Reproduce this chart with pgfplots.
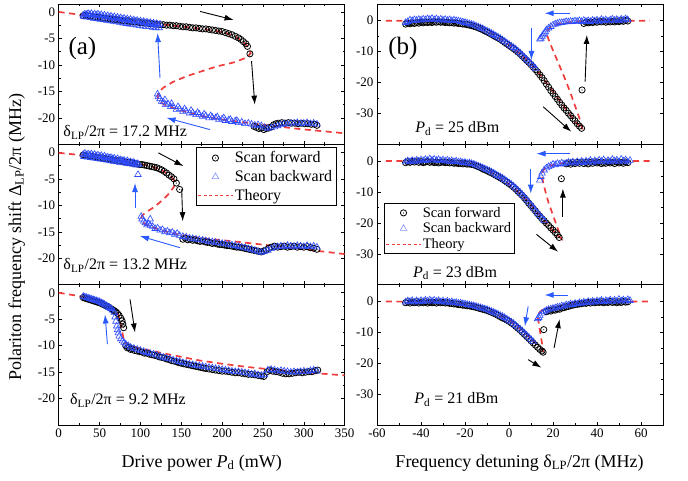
\documentclass[border=0pt]{standalone}
\usepackage{fontspec}
\setmainfont{Liberation Serif}
\usepackage{pgfplots}
\pgfplotsset{compat=1.18}
\usetikzlibrary{arrows.meta}

\definecolor{bwdc}{RGB}{45,75,255}
\definecolor{thc}{RGB}{240,60,60}
\definecolor{arrblue}{RGB}{40,90,255}
\newcommand\fs[1]{\fontsize{#1}{#1}\selectfont}

\pgfdeclareplotmark{odot}{%
  \pgfpathcircle{\pgfpointorigin}{\pgfplotmarksize}\pgfusepathqstroke
  \pgfpathcircle{\pgfpointorigin}{0.2\pgfplotmarksize}\pgfusepathqfill}

\pgfplotsset{
  panel/.style={scale only axis, width=286pt, height=140.4pt, anchor=north west,
    tick align=inside, major tick length=3.5pt, minor tick length=2pt,
    axis line style={line width=0.8pt},
    every tick/.style={black, line width=0.6pt},
    tick label style={font=\fs{13}},
    /pgf/number format/assume math mode=true},
  lpanel/.style={panel, xmin=0, xmax=350, ymin=-25, ymax=1.5,
    xtick={0,50,...,350}, minor x tick num=1,
    ytick={-20,-15,-10,-5,0}, minor y tick num=1},
  rpanel/.style={panel, xmin=-60, xmax=70, ymin=-40, ymax=5.4,
    xtick={-60,-40,...,60}, minor x tick num=1,
    ytick={-30,-20,-10,0}, minor y tick num=1},
  fwd/.style={only marks, mark=odot, mark size=3.1pt, black, line width=0.8pt,
    legend image code/.code={\draw[mark repeat=2,mark phase=2,##1] plot coordinates {(0cm,0cm) (0.6cm,0cm) (1.2cm,0cm)};}},
  bwd/.style={only marks, mark=triangle, mark size=3.8pt, bwdc, line width=0.6pt,
    legend image code/.code={\draw[mark repeat=2,mark phase=2,##1,bwdc!60] plot coordinates {(0cm,0cm) (0.6cm,0cm) (1.2cm,0cm)};}},
  th/.style={no marks, thc, line width=1.7pt, dash pattern=on 6pt off 4.5pt,
    legend image code/.code={\draw[thc, line width=0.6pt, dash pattern=on 3pt off 2.5pt] (0cm,0cm) -- (1.2cm,0cm);}},
}
\tikzset{
  arrk/.style={-{Latex[length=9pt,width=6pt]}, line width=0.9pt, black},
  arrbl/.style={-{Latex[length=9pt,width=6pt]}, line width=0.9pt, arrblue},
}

\begin{document}
\begin{tikzpicture}
\path[use as bounding box] (0,0) rectangle (688pt,-481pt);

% ---------------- (a) top: 17.2 MHz
\begin{axis}[lpanel, at={(58.7pt,-4pt)}, xticklabels={}]
\addplot[fwd] coordinates {
(30,-0.7)(33,-0.6)(36,-0.8)(39,-0.8)(42,-0.9)(45,-1.0)(48,-1.0)(51,-1.1)(54,-1.2)(57,-1.2)(60,-1.3)(63,-1.3)(66,-1.4)(69,-1.4)(72,-1.5)(75,-1.6)(78,-1.6)(81,-1.7)(84,-1.7)(87,-1.8)(90,-1.8)(93,-1.9)(96,-1.9)(99,-2.0)(102,-2.0)(105,-2.1)(108,-2.1)(111,-2.2)(114,-2.2)(117,-2.3)(120,-2.3)(124,-2.4)(128,-2.4)(132,-2.5)(136,-2.5)(140,-2.6)(144,-2.6)(148,-2.7)(152,-2.8)(156,-2.8)(160,-2.9)(164,-3.0)(168,-3.0)(172,-3.1)(176,-3.2)(180,-3.2)(184,-3.3)(188,-3.4)(192,-3.5)(196,-3.6)(200,-3.7)(204,-3.9)(208,-4.1)(212,-4.3)(216,-4.6)(220,-4.9)(223,-5.2)(226,-5.6)(229,-6.0)(231,-6.5)(234,-7.9)
(239,-21.6)(242,-21.8)(245,-22.0)(248,-21.9)(251,-22.2)(254,-22.0)(257,-21.9)(260,-21.7)(263,-21.3)(266,-21.1)(269,-21.0)(273,-20.9)(277,-21.0)(281,-20.9)(285,-21.0)(289,-21.0)(293,-21.1)(297,-21.0)(301,-21.1)(305,-21.1)(309,-21.2)(313,-21.2)(316,-21.4)};
\addplot[bwd] coordinates {
(316,-21.2)(312,-21.0)(308,-21.1)(304,-20.9)(300,-21.0)(296,-21.1)(292,-20.9)(288,-21.0)(284,-21.0)(280,-21.2)(276,-21.1)(272,-21.3)(268,-21.5)(264,-21.7)(260,-21.9)(256,-22.0)(252,-21.8)(248,-21.5)(244,-21.3)(240,-21.4)(236,-21.2)(232,-21.0)(228,-21.1)(224,-20.8)(220,-20.9)(216,-20.6)(212,-20.7)(208,-20.4)(204,-20.5)(200,-20.2)(196,-20.3)(192,-20.0)(188,-19.9)(184,-20.0)(180,-19.6)(176,-19.7)(172,-19.3)(168,-19.4)(164,-19.0)(160,-19.1)(156,-18.7)(152,-18.8)(148,-18.3)(144,-18.4)(140,-17.9)(137,-17.9)(134,-17.4)(131,-17.5)(128,-17.0)(126,-16.9)(124,-16.4)(122,-16.0)(121,-15.5)
(130,-16.6)(138,-17.3)(146,-17.9)(154,-18.3)(162,-18.6)(170,-19.0)(178,-19.3)(186,-19.6)(194,-19.8)(202,-20.0)(210,-20.3)(218,-20.5)
(124,-2.3)(122,-2.5)(120,-2.2)(118,-2.4)(116,-2.1)(114,-2.3)(112,-2.0)(110,-2.2)(108,-1.9)(106,-2.1)(104,-1.8)(102,-2.0)(100,-1.7)(98,-1.9)(96,-1.6)(94,-1.8)(92,-1.5)(90,-1.7)(88,-1.4)(86,-1.6)(84,-1.3)(82,-1.5)(80,-1.2)(78,-1.4)(76,-1.1)(74,-1.3)(72,-1.0)(70,-1.2)(68,-0.9)(66,-1.1)(64,-0.8)(62,-1.0)(60,-0.7)(58,-0.9)(56,-0.6)(54,-0.8)(52,-0.5)(50,-0.7)(48,-0.4)(46,-0.6)(44,-0.4)(42,-0.6)(40,-0.3)(38,-0.5)(36,-0.3)(34,-0.5)(32,-0.4)(30,-0.6)
(31,-0.9)(35,-1.0)(39,-1.1)(43,-1.2)(47,-1.3)(51,-1.4)(55,-1.5)(59,-1.6)(63,-1.7)(67,-1.8)(71,-1.9)(75,-2.0)(79,-2.1)(83,-2.2)(87,-2.3)(91,-2.4)(95,-2.5)(99,-2.6)(103,-2.7)(107,-2.8)(111,-2.8)(115,-2.9)(119,-3.0)(123,-3.0)};
\addplot[th] coordinates {
(0,0)(15,-0.3)(30,-0.6)(50,-0.95)(70,-1.3)(90,-1.7)(110,-2.05)(130,-2.4)(150,-2.75)(170,-3.1)(190,-3.5)(205,-4.0)(215,-4.6)(223,-5.3)(229,-6.1)(233,-7.0)(235,-7.8)
(230,-8.6)(215,-9.5)(193,-10.3)(175,-11.2)(157,-12.1)(140,-13.2)(128,-14.3)(122,-15.2)(121,-16.0)
(124,-17.0)(132,-17.7)(150,-18.6)(173,-19.6)(200,-20.3)(240,-21.1)(295,-22.1)(350,-22.9)};
\draw[arrk] (173,0.1) -- (214,-1.5);
\draw[arrk] (236,-9.3) -- (240,-17.5);
\draw[arrbl] (124,-12.5) -- (121,-4);
\draw[arrbl] (185,-22.2) -- (132,-20);
\node[anchor=base west, inner sep=0, font=\fs{25}] at (11.8,-8.1) {(a)};
\node[anchor=base west, inner sep=0, font=\fs{16}] at (5.6,-23.5) {δ\textsubscript{LP}/2π = 17.2 MHz};
\end{axis}

% ---------------- (a) middle: 13.2 MHz
\begin{axis}[lpanel, at={(58.7pt,-144.4pt)}, xticklabels={},
  legend style={at={(axis description cs:0.971,0.979)}, anchor=north east,
    font=\fs{16}, draw=black, line width=0.6pt, inner sep=2pt,
    cells={anchor=west}, row sep=2pt}]
\addplot[fwd] coordinates {
(30,-0.5)(33,-0.6)(36,-0.7)(39,-0.7)(42,-0.8)(45,-0.9)(48,-1.0)(51,-1.0)(54,-1.1)(57,-1.2)(60,-1.3)(63,-1.3)(66,-1.4)(69,-1.5)(72,-1.6)(75,-1.6)(78,-1.7)(81,-1.8)(84,-1.9)(87,-1.9)(90,-2.0)(93,-2.1)(96,-2.2)(99,-2.3)(102,-2.3)(105,-2.4)(108,-2.5)(111,-2.6)(114,-2.7)(117,-2.8)(120,-2.9)(123,-3.1)(126,-3.3)(129,-3.6)(132,-3.9)(135,-4.3)(138,-4.6)(141,-5.0)(144,-5.8)(148,-7.0)
(152,-16.4)(155,-16.2)(158,-16.5)(161,-16.4)(164,-16.6)(167,-16.5)(170,-16.7)(173,-16.8)(176,-16.7)(179,-16.9)(182,-17.0)(185,-17.0)(188,-17.2)(191,-17.1)(194,-17.3)(197,-17.4)(200,-17.4)(203,-17.5)(206,-17.6)(209,-17.6)(212,-17.7)(215,-17.8)(218,-17.9)(221,-17.9)(224,-18.0)(227,-18.1)(230,-18.2)(233,-18.3)(236,-18.4)(239,-18.5)(242,-18.6)(245,-18.7)(248,-18.8)(251,-18.6)(254,-18.4)(257,-18.1)(260,-17.9)(264,-17.7)(268,-17.9)(272,-17.8)(276,-17.7)(280,-17.9)(284,-17.8)(288,-17.7)(292,-17.9)(296,-17.8)(300,-17.9)(304,-17.8)(308,-18.0)(312,-18.1)(316,-18.3)};
\addlegendentry{Scan forward}
\addplot[bwd] coordinates {
(316,-17.9)(312,-17.7)(308,-17.8)(304,-17.6)(300,-17.8)(296,-17.7)(292,-17.6)(288,-17.8)(284,-17.7)(280,-17.6)(276,-17.8)(272,-17.7)(268,-17.8)(264,-17.9)(260,-18.2)(256,-18.5)(252,-18.7)(248,-18.9)(244,-18.7)(240,-18.5)(236,-18.3)(232,-18.2)(228,-18.0)(224,-17.9)(220,-17.8)(216,-17.6)(212,-17.5)(208,-17.4)(204,-17.3)(200,-17.2)(196,-17.1)(192,-17.0)(188,-16.9)(184,-16.8)(180,-16.7)(176,-16.6)(172,-16.5)(168,-16.4)(164,-16.3)(160,-16.2)(156,-16.0)(152,-15.9)(148,-15.7)(145,-15.3)(142,-15.5)(139,-15.1)(136,-15.2)(133,-14.9)(130,-15.0)(127,-14.6)(124,-14.7)(121,-14.3)(118,-14.4)(115,-14.0)(112,-13.8)(110,-13.5)(108,-13.7)(106,-13.3)(104,-13.0)(102,-12.6)(101,-12.1)(112,-12.6)
(97,-4.2)(98,-2.3)(96,-2.1)(94,-2.2)(92,-1.9)(90,-2.0)(88,-1.8)(86,-1.9)(84,-1.6)(82,-1.8)(80,-1.5)(78,-1.6)(76,-1.4)(74,-1.5)(72,-1.2)(70,-1.4)(68,-1.1)(66,-1.2)(64,-1.0)(62,-1.1)(60,-0.9)(58,-1.0)(56,-0.7)(54,-0.9)(52,-0.6)(50,-0.8)(48,-0.5)(46,-0.7)(44,-0.4)(42,-0.6)(40,-0.3)(38,-0.5)(36,-0.3)(34,-0.5)(32,-0.2)(30,-0.4)
(31,-0.8)(35,-0.9)(39,-1.0)(43,-1.1)(47,-1.2)(51,-1.3)(55,-1.4)(59,-1.5)(63,-1.6)(67,-1.7)(71,-1.8)(75,-1.9)(79,-2.0)(83,-2.1)(87,-2.2)(91,-2.3)(95,-2.4)};
\addlegendentry{Scan backward}
\addplot[th] coordinates {
(0,-0.1)(20,-0.4)(40,-0.8)(60,-1.2)(80,-1.6)(100,-2.2)(115,-2.7)(125,-3.3)(133,-4.0)(138,-4.6)(141,-5.2)(142.5,-5.8)
(141,-6.5)(135,-7.8)(127,-9.0)(118,-10.2)(108,-11.2)(102,-11.9)(101,-12.5)
(103,-13.2)(108,-13.7)(118,-14.3)(132,-15.0)(150,-15.6)(175,-16.2)(214,-16.8)(260,-17.6)(300,-18.3)(350,-19.2)};
\addlegendentry{Theory}
\draw[arrk] (122,-0.1) -- (152.6,-2.6);
\draw[arrk] (150.5,-7) -- (151.8,-13);
\draw[arrbl] (93.4,-10.5) -- (93.4,-5.8);
\draw[arrbl] (148.5,-18) -- (99.5,-15.8);
\node[anchor=base west, inner sep=0, font=\fs{16}] at (5.6,-22.2) {δ\textsubscript{LP}/2π = 13.2 MHz};
\end{axis}

% ---------------- (a) bottom: 9.2 MHz
\begin{axis}[lpanel, at={(58.7pt,-284.8pt)}]
\addplot[fwd] coordinates {
(30,-0.9)(32,-1.0)(34,-1.1)(36,-1.2)(38,-1.3)(40,-1.4)(42,-1.5)(44,-1.6)(46,-1.7)(48,-1.8)(50,-1.9)(52,-2.0)(54,-2.2)(56,-2.3)(58,-2.5)(60,-2.6)(62,-2.8)(64,-3.0)(66,-3.2)(68,-3.4)(70,-3.6)(72,-3.9)(74,-4.3)(76,-4.8)(77.5,-5.3)(78.5,-5.9)(79.5,-6.6)
(82,-10.0)(84,-10.4)(86,-10.3)(88,-10.7)(90,-10.6)(93,-10.9)(96,-11.0)(99,-11.1)(102,-11.2)(105,-11.4)(108,-11.4)(111,-11.6)(114,-11.7)(117,-11.8)(120,-11.9)(123,-12.1)(126,-12.2)(129,-12.3)(132,-12.5)(135,-12.6)(138,-12.8)(141,-12.9)(144,-13.0)(147,-13.2)(150,-13.3)(153,-13.4)(156,-13.5)(159,-13.6)(162,-13.7)(165,-13.8)(168,-13.9)(171,-14.0)(174,-14.1)(177,-14.2)(180,-14.3)(184,-14.4)(188,-14.5)(192,-14.6)(196,-14.7)(200,-14.8)(204,-14.8)(208,-14.9)(212,-15.0)(216,-15.1)(220,-15.1)(224,-15.2)(228,-15.3)(232,-15.4)(236,-15.4)(240,-15.5)(244,-15.6)(248,-15.7)(251,-15.8)(255,-14.9)(258,-14.6)(262,-14.8)(266,-14.9)(270,-15.0)(274,-15.2)(278,-15.3)(282,-15.3)(286,-15.2)(290,-15.1)(294,-15.0)(298,-15.1)(302,-15.0)(306,-14.9)(310,-14.9)(314,-14.7)(317,-14.6)};
\addplot[bwd] coordinates {
(316,-14.8)(312,-14.6)(308,-14.7)(304,-14.9)(300,-14.8)(296,-14.9)(292,-15.0)(288,-14.9)(284,-15.0)(280,-14.9)(276,-14.8)(272,-14.7)(268,-14.8)(264,-14.6)(260,-14.5)(256,-14.6)(252,-15.5)(248,-15.6)(244,-15.5)(240,-15.3)(236,-15.4)(232,-15.2)(228,-15.1)(224,-15.0)(220,-14.9)(216,-14.9)(212,-14.8)(208,-14.7)(204,-14.6)(200,-14.5)(196,-14.4)(192,-14.3)(188,-14.2)(184,-14.1)(180,-14.0)(176,-13.9)(172,-13.8)(168,-13.7)(164,-13.6)(160,-13.5)(156,-13.3)(152,-13.2)(148,-13.0)(144,-12.9)(140,-12.7)(136,-12.5)(132,-12.4)(128,-12.2)(124,-12.0)(120,-11.8)(116,-11.6)(112,-11.5)(108,-11.3)(104,-11.1)(100,-10.9)(96,-10.7)(92,-10.5)(88,-10.3)(85,-10.0)(82,-9.7)(80,-9.4)(78,-9.1)(76,-8.7)(74,-8.2)(73,-7.6)(72,-7.0)(71,-6.3)(70,-5.4)(69,-4.6)(68,-3.7)(66,-3.3)(64,-3.0)(62,-2.8)(60,-2.6)(58,-2.4)(56,-2.2)(54,-2.0)(52,-1.9)(50,-1.7)(48,-1.6)(46,-1.5)(44,-1.4)(42,-1.3)(40,-1.2)(38,-1.1)(36,-1.0)(34,-0.9)(32,-0.8)(30,-0.7)};
\addplot[th] coordinates {
(0,0)(20,-0.5)(40,-1.1)(55,-1.8)(65,-2.6)(70,-3.3)(73,-4.2)(75,-5.2)(77,-6.6)(78.5,-8.0)(80,-9.0)(83,-9.6)(90,-10.1)(100,-10.5)(112,-10.9)(130,-11.5)(150,-12.1)(173,-12.8)(200,-13.4)(230,-14.0)(255,-14.4)(300,-15.0)(350,-15.6)};
\draw[arrk] (87.3,-1.25) -- (93.4,-7.5);
\draw[arrbl] (59.6,-9.7) -- (56.7,-4.1);
\node[anchor=base west, inner sep=0, font=\fs{16}] at (13.8,-21.1) {δ\textsubscript{LP}/2π = 9.2 MHz};
\end{axis}

% ---------------- (b) top: 25 dBm
\begin{axis}[rpanel, at={(377pt,-4pt)}, xticklabels={}]
\addplot[fwd] coordinates {
(-47,-1.1)(-46,-0.8)(-45,-1.0)(-44,-0.7)(-43,-0.9)(-42,-0.6)(-41,-0.8)(-40,-0.5)(-39,-0.7)(-38,-0.4)(-37,-0.6)(-36,-0.4)(-35,-0.6)(-34,-0.3)(-33,-0.5)(-32,-0.3)(-31,-0.5)(-30,-0.4)(-29,-0.6)(-28,-0.5)(-27,-0.7)(-26,-0.6)(-25,-0.8)(-24,-0.7)(-23,-0.9)(-22,-0.9)(-21,-1.1)(-20,-1.1)(-19,-1.3)(-18,-1.4)(-17,-1.6)(-16,-1.8)(-15,-2.0)(-14,-2.3)(-13,-2.6)(-12,-2.9)(-11,-3.3)(-10,-3.6)(-9,-4.0)(-8,-4.4)(-7,-4.8)(-6,-5.2)(-5,-5.6)(-4,-6.0)(-3,-6.5)(-2,-7.0)(-1,-7.5)(0,-8.0)(1,-8.5)(2,-9.0)(3,-9.5)(4,-10.1)(5,-10.7)(6,-11.4)(7,-12.1)(8,-12.8)(9,-13.5)(10,-14.2)(11,-15.0)(12,-15.8)(13,-16.6)(14,-17.5)(15,-18.4)(16,-19.4)(17,-20.5)(18,-21.5)(19,-22.6)(20,-23.5)(21,-24.5)(22,-25.4)(23,-26.4)(24,-27.3)(25,-28.2)(26,-29.0)(27,-29.9)(28,-30.7)(29,-31.6)(30,-32.4)(31,-33.3)(32,-34.1)(33,-34.8)
(33.2,-22.4)
(34,-0.9)(35,-0.5)(36,-0.7)(37,-0.4)(38,-0.6)(39,-0.3)(40,-0.5)(41,-0.2)(42,-0.4)(43,-0.2)(44,-0.5)(45,-0.3)(46,-0.4)(47,-0.2)(48,-0.4)(49,-0.1)(50,-0.3)(51,0.0)(52,-0.2)(53,0.1)(54,-0.1)};
\addplot[bwd] coordinates {
(54,0.3)(53,0.6)(52,0.2)(51,0.5)(50,0.0)(49,0.4)(48,0.1)(47,0.5)(46,0.2)(45,-0.1)(44,0.3)(43,0.0)(42,0.4)(41,-0.2)(40,0.2)(39,-0.1)(38,0.1)(37,-0.3)(36,0.0)(35,-0.2)(34,0.1)(33,-0.3)(32,0.0)(31,-0.2)(30,-0.1)(29,-0.3)(28,-0.2)(27,-0.4)(26,-0.3)(25,-0.5)(24,-0.6)(23,-0.7)(22,-0.9)(21,-1.1)(20,-1.4)(19,-1.9)(18,-2.4)(17,-3.0)(16.5,-3.6)(16,-4.1)(15.5,-4.6)(15,-5.1)(14.5,-5.7)(14,-6.0)
(12,-15.4)(11,-14.6)(10,-13.9)(9,-13.2)(8,-12.5)(7,-11.8)(6,-11.1)(5,-10.4)(4,-9.8)(3,-9.2)(2,-8.7)(1,-8.2)(0,-7.7)(-1,-7.2)(-2,-6.7)(-3,-6.2)(-4,-5.7)(-5,-5.3)(-6,-4.9)(-7,-4.5)(-8,-4.1)(-9,-3.7)(-10,-3.3)(-11,-3.0)(-12,-2.6)(-13,-2.3)(-14,-2.0)(-15,-1.7)(-16,-1.4)(-17,-1.2)(-18,-1.0)(-19,-0.8)(-20,-0.6)(-21,-0.4)(-22,-0.3)(-23,-0.1)(-24,0.0)(-25,0.2)(-26,0.0)(-27,0.3)(-28,0.1)(-29,0.4)(-30,0.2)(-31,0.5)(-32,0.2)(-33,0.6)(-34,0.3)(-35,0.7)(-36,0.4)(-37,0.6)(-38,0.3)(-39,0.5)(-40,0.2)(-41,0.4)(-42,0.1)(-43,0.3)(-44,0.0)(-45,0.2)(-46,-0.3)(-47,-0.6)};
\addplot[th] coordinates {
(-56,0)(-45,0)(-35,-0.1)(-28,-0.3)(-22,-0.7)(-17,-1.4)(-12,-2.6)(-7,-4.5)(-2,-6.8)(3,-9.4)(8,-12.6)(13,-16.4)(18,-21.0)(23,-25.8)(28,-30.6)(31,-33.3)(33.5,-35.2)
(32,-31.5)(30,-27.5)(27.5,-22.5)(25,-18.0)(22.5,-13.8)(20,-9.6)(18.3,-6.7)(17.3,-4.6)
(17.5,-3.2)(19,-2.0)(22,-1.1)(26,-0.6)(32,-0.2)(40,0)(64,0)};
\draw[arrbl] (27.5,2.4) -- (16.2,2.4);
\draw[arrbl] (10.2,-2.5) -- (10.2,-12.7);
\draw[arrk] (34.6,-19.7) -- (35.4,-4.6);
\draw[arrk] (15.5,-27.8) -- (28.3,-35.9);
\node[anchor=base west, inner sep=0, font=\fs{25}] at (-54.9,-10.8) {(b)};
\node[anchor=base west, inner sep=0, font=\fs{16}] at (-42.7,-36.3) {\textit{P}\textsubscript{d} = 25 dBm};
\end{axis}

% ---------------- (b) middle: 23 dBm
\begin{axis}[rpanel, at={(377pt,-144.4pt)}, xticklabels={},
  legend style={at={(axis description cs:0.0256,0.581)}, anchor=north west,
    font=\fs{14.5}, draw=black, line width=0.6pt, inner sep=1.5pt,
    cells={anchor=west}, row sep=0pt}]
\addplot[fwd] coordinates {
(-47,-0.5)(-46,-0.2)(-45,-0.4)(-44,-0.1)(-43,-0.3)(-42,0.0)(-41,-0.4)(-40,-0.2)(-39,-0.5)(-38,-0.3)(-37,-0.1)(-36,-0.4)(-35,-0.2)(-34,-0.5)(-33,-0.3)(-32,-0.6)(-31,-0.4)(-30,-0.3)(-29,-0.5)(-28,-0.4)(-27,-0.6)(-26,-0.5)(-25,-0.7)(-24,-0.6)(-23,-0.8)(-22,-0.7)(-21,-0.9)(-20,-0.8)(-19,-1.0)(-18,-0.9)(-17,-1.1)(-16,-1.2)(-15,-1.5)(-14,-1.8)(-13,-2.1)(-12,-2.5)(-11,-2.8)(-10,-3.1)(-9,-3.5)(-8,-3.8)(-7,-4.2)(-6,-4.6)(-5,-5.0)(-4,-5.4)(-3,-5.8)(-2,-6.3)(-1,-6.8)(0,-7.3)(1,-7.8)(2,-8.4)(3,-9.0)(4,-9.7)(5,-10.4)(6,-11.1)(7,-11.9)(8,-12.7)(9,-13.6)(10,-14.4)(11,-15.3)(12,-16.1)(13,-17.0)(14,-17.8)(15,-18.6)(16,-19.3)(17,-20.1)(18,-20.8)(19,-21.6)(20,-22.3)(21,-23.1)(22,-23.9)(22.8,-24.7)
(23.8,-5.7)
(26,-0.9)(27,-0.6)(28,-1.0)(29,-0.5)(30,-0.8)(31,-0.4)(32,-0.7)(33,-0.3)(34,-0.8)(35,-0.5)(36,-0.9)(37,-0.4)(38,-0.7)(39,-0.3)(40,-0.6)(41,-0.4)(42,-0.8)(43,-0.5)(44,-0.7)(45,-0.3)(46,-0.6)(47,-0.4)(48,-0.8)(49,-0.3)(50,-0.6)(51,-0.4)(52,-0.7)(53,-0.3)(54,-0.5)};
\addlegendentry{Scan forward}
\addplot[bwd] coordinates {
(55,0.2)(54,-0.3)(53,0.4)(52,0.0)(51,0.6)(50,-0.2)(49,0.3)(48,0.0)(47,0.5)(46,-0.1)(45,0.2)(44,-0.3)(43,0.4)(42,-0.1)(41,0.3)(40,-0.2)(39,0.1)(38,-0.4)(37,0.2)(36,-0.3)(35,0.0)(34,-0.5)(33,-0.1)(32,-0.6)(31,-0.2)(30,-0.7)(29,-0.3)(28,-0.6)(27,-0.4)(26,-0.7)(25,-0.9)(24,-0.6)(23,-1.0)(22,-0.8)(21,-1.2)(20,-1.0)(19,-1.5)(18,-1.8)(17,-2.2)(16,-2.9)(15,-3.9)(14.5,-5.0)(14,-6.2)
(16,-19.2)(15,-18.4)(14,-17.6)(13,-16.8)(12,-15.9)(11,-15.0)(10,-14.2)(9,-13.3)(8,-12.5)(7,-11.6)(6,-10.9)(5,-10.1)(4,-9.4)(3,-8.7)(2,-8.1)(1,-7.5)(0,-7.0)(-1,-6.5)(-2,-6.0)(-3,-5.5)(-4,-5.1)(-5,-4.7)(-6,-4.3)(-7,-3.9)(-8,-3.5)(-9,-3.1)(-10,-2.8)(-11,-2.5)(-12,-2.2)(-13,-1.9)(-14,-1.6)(-15,-1.3)(-16,-1.0)(-17,-0.8)(-18,-0.6)(-19,-0.7)(-20,-0.4)(-21,-0.5)(-22,-0.2)(-23,-0.3)(-24,0.0)(-25,-0.2)(-26,0.1)(-27,-0.1)(-28,0.3)(-29,0.0)(-30,0.4)(-31,0.1)(-32,0.5)(-33,0.2)(-34,0.6)(-35,0.3)(-36,0.7)(-37,0.2)(-38,0.5)(-39,0.1)(-40,0.4)(-41,0.0)(-42,0.3)(-43,-0.1)(-44,0.2)(-45,-0.2)(-46,0.1)(-47,-0.3)};
\addlegendentry{Scan backward}
\addplot[th] coordinates {
(-56,0)(-40,0)(-30,-0.2)(-22,-0.5)(-17,-0.9)(-13,-1.8)(-9,-3.2)(-5,-5.0)(-1,-6.9)(3,-9.1)(7,-11.8)(11,-15.0)(15,-18.4)(19,-21.7)(22,-24.0)(23.8,-25.0)
(22.5,-22.5)(21,-19.5)(19.5,-16.5)(18,-13.5)(16.8,-10.5)(15.7,-7.5)(15,-5.0)
(15.2,-3.3)(16.5,-2.2)(19,-1.4)(23,-0.8)(28,-0.4)(35,-0.1)(45,0)(64,0)};
\addlegendentry{Theory}
\draw[arrbl] (27.5,2.4) -- (12.5,2.4);
\draw[arrbl] (9.9,-2.5) -- (9.9,-10.5);
\draw[arrk] (24.5,-18) -- (24.5,-8.9);
\draw[arrk] (12.5,-23.7) -- (22.3,-29.3);
\node[anchor=base west, inner sep=0, font=\fs{16}] at (-43.7,-37.6) {\textit{P}\textsubscript{d} = 23 dBm};
\end{axis}

% ---------------- (b) bottom: 21 dBm
\begin{axis}[rpanel, at={(377pt,-284.8pt)}]
\addplot[fwd] coordinates {
(-47,-0.4)(-46,-0.1)(-45,-0.5)(-44,-0.2)(-43,-0.4)(-42,-0.1)(-41,-0.5)(-40,-0.2)(-39,-0.4)(-38,-0.1)(-37,-0.5)(-36,-0.2)(-35,-0.4)(-34,-0.3)(-33,-0.5)(-32,-0.2)(-31,-0.4)(-30,-0.3)(-29,-0.5)(-28,-0.4)(-27,-0.6)(-26,-0.6)(-25,-0.8)(-24,-0.8)(-23,-1.0)(-22,-1.0)(-21,-1.2)(-20,-1.2)(-19,-1.4)(-18,-1.4)(-17,-1.6)(-16,-1.7)(-15,-1.9)(-14,-2.1)(-13,-2.3)(-12,-2.5)(-11,-2.7)(-10,-2.9)(-9,-3.2)(-8,-3.5)(-7,-3.8)(-6,-4.1)(-5,-4.5)(-4,-4.9)(-3,-5.3)(-2,-5.6)(-1,-6.0)(0,-6.4)(1,-6.9)(2,-7.4)(3,-8.0)(4,-8.6)(5,-9.2)(6,-9.9)(7,-10.6)(8,-11.3)(9,-12.0)(10,-12.7)(11,-13.4)(12,-14.1)(13,-14.8)(14,-15.5)(15,-16.0)(15.5,-16.4)
(15.8,-9.1)
(17,-3.3)(18,-3.0)(19,-3.1)(20,-2.7)(21,-2.8)(22,-2.4)(23,-2.5)(24,-2.1)(25,-2.0)(26,-1.7)(27,-1.6)(28,-1.3)(29,-1.2)(30,-1.0)(31,-0.9)(32,-0.8)(33,-0.7)(34,-0.5)(35,-0.6)(36,-0.3)(37,-0.5)(38,-0.2)(39,-0.4)(40,-0.2)(41,-0.3)(42,-0.1)(43,-0.4)(44,-0.2)(45,-0.3)(46,0.0)(47,-0.3)(48,-0.1)(49,-0.4)(50,-0.1)(51,-0.3)(52,0.0)(53,-0.2)(54,-0.1)};
\addplot[bwd] coordinates {
(55,0.3)(54,0.6)(53,0.1)(52,0.5)(51,0.2)(50,0.7)(49,0.1)(48,0.4)(47,0.0)(46,0.5)(45,0.1)(44,0.3)(43,-0.1)(42,0.4)(41,0.0)(40,0.2)(39,-0.2)(38,0.1)(37,-0.3)(36,0.0)(35,-0.4)(34,-0.2)(33,-0.6)(32,-0.4)(31,-0.8)(30,-0.6)(29,-1.0)(28,-0.8)(27,-1.2)(26,-1.1)(25,-1.5)(24,-1.4)(23,-1.8)(22,-1.8)(21,-2.1)(20,-2.2)(19,-2.4)(18,-2.6)(17,-2.9)(16,-3.3)(15,-3.8)(14,-4.5)(13.5,-5.2)(13,-5.6)
(11,-13.0)(10,-12.3)(9,-11.6)(8,-10.9)(7,-10.2)(6,-9.5)(5,-8.9)(4,-8.3)(3,-7.7)(2,-7.1)(1,-6.6)(0,-6.1)(-1,-5.7)(-2,-5.2)(-3,-4.8)(-4,-4.5)(-5,-4.1)(-6,-3.8)(-7,-3.5)(-8,-3.2)(-9,-2.9)(-10,-2.6)(-11,-2.4)(-12,-2.2)(-13,-2.0)(-14,-1.8)(-15,-1.6)(-16,-1.4)(-17,-1.3)(-18,-1.1)(-19,-1.0)(-20,-0.8)(-21,-0.7)(-22,-0.5)(-23,-0.6)(-24,-0.3)(-25,-0.4)(-26,-0.1)(-27,-0.3)(-28,0.1)(-29,-0.2)(-30,0.2)(-31,-0.1)(-32,0.3)(-33,0.0)(-34,0.4)(-35,0.1)(-36,0.5)(-37,0.1)(-38,0.4)(-39,0.0)(-40,0.3)(-41,-0.1)(-42,0.2)(-43,-0.2)(-44,0.3)(-45,0.0)(-46,0.2)(-47,-0.2)};
\addplot[th] coordinates {
(-56,0)(-40,-0.1)(-30,-0.3)(-22,-0.8)(-16,-1.5)(-10,-2.7)(-5,-4.2)(0,-6.1)(5,-8.7)(10,-12.0)(13,-14.2)(15.5,-15.9)
(15,-13.5)(14.3,-10.5)(13.6,-7.5)(13.2,-5.5)
(13.5,-3.8)(15,-2.8)(18,-2.2)(22,-1.6)(27,-1.0)(33,-0.5)(40,-0.2)(50,0)(64,0)};
\draw[arrbl] (26.8,2.1) -- (16.2,2.1);
\draw[arrbl] (8.7,-1.6) -- (7.2,-8);
\draw[arrk] (20.5,-15) -- (23,-5.7);
\draw[arrk] (8.7,-18.8) -- (14.7,-21.4);
\node[anchor=base west, inner sep=0, font=\fs{16}] at (-43.1,-33.1) {\textit{P}\textsubscript{d} = 21 dBm};
\end{axis}

% axis labels
\node[anchor=base, font=\fs{18}] at (201.8pt,-467pt) {Drive power \textit{P}\textsubscript{d} (mW)};
\node[anchor=base, font=\fs{18}] at (519.6pt,-467pt) {Frequency detuning δ\textsubscript{LP}/2π (MHz)};
\node[anchor=base, rotate=90, font=\fs{18}] at (21pt,-237pt) {Polariton frequency shift Δ\textsubscript{LP}/2π (MHz)};
\end{tikzpicture}
\end{document}
